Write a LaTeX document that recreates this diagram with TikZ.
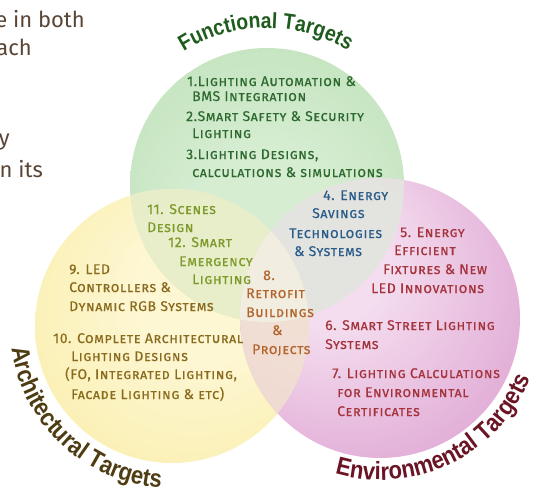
\documentclass[tikz,border=0pt]{standalone}
\usepackage{fontspec}
\usetikzlibrary{decorations.text}
\setmainfont{Fira Sans}
\newfontfamily\scf{Fira Sans}[Letters=SmallCaps, LetterSpace=4, FakeBold=0.4]
\newfontfamily\ttlf{Liberation Sans}[FakeStretch=0.88]
\definecolor{gin}{HTML}{D6EDD2}
\definecolor{gout}{HTML}{B2DBAB}
\definecolor{yin}{HTML}{FDF7D4}
\definecolor{yout}{HTML}{F8E994}
\definecolor{pin}{HTML}{F4DDEF}
\definecolor{pout}{HTML}{D386C3}
\definecolor{gyc}{HTML}{E6EDCA}
\definecolor{gpc}{HTML}{E2E5DE}
\definecolor{ypc}{HTML}{F1E0D0}
\definecolor{gypc}{HTML}{F3EFE3}
\definecolor{tgreen}{HTML}{2E6A30}
\definecolor{tblue}{HTML}{2A5C8A}
\definecolor{tred}{HTML}{A5333C}
\definecolor{torange}{HTML}{B3642B}
\definecolor{tgold}{HTML}{8A6B1E}
\definecolor{tolive}{HTML}{7C9A2A}
\definecolor{ttlgreen}{HTML}{1E5C1E}
\definecolor{ttlbrown}{HTML}{4E3C12}
\definecolor{ttlred}{HTML}{6A1424}
\definecolor{slidetext}{HTML}{5A4535}
\pgfdeclareradialshading{gsh}{\pgfpoint{0bp}{-8bp}}{color(0bp)=(gin); color(12bp)=(gin); color(50bp)=(gout)}
\pgfdeclareradialshading{ysh}{\pgfpoint{8bp}{8bp}}{color(0bp)=(yin); color(12bp)=(yin); color(50bp)=(yout)}
\pgfdeclareradialshading{psh}{\pgfpoint{-14bp}{14bp}}{color(0bp)=(pin); color(12bp)=(pin); color(50bp)=(pout)}
\tikzset{
  item/.style={anchor=base west, inner sep=0pt, font=\scf\fontsize{14}{14}\selectfont},
  fgreen/.style={item, text=tgreen},
  fblue/.style={item, text=tblue},
  fred/.style={item, text=tred},
  forange/.style={item, text=torange},
  fgold/.style={item, text=tgold},
  folive/.style={item, text=tolive},
  slide/.style={anchor=base east, inner sep=0pt, text=slidetext, font=\fontsize{22}{22}\selectfont},
}
\begin{document}
\begin{tikzpicture}[x=1pt,y=1pt]
\useasboundingbox (0,0) rectangle (546,-490);
\fill[white] (0,0) rectangle (546,-490);
\coordinate (G) at (267,-185);
\coordinate (Y) at (172,-326);
\coordinate (P) at (380,-318);
% circles
\shade[shading=gsh] (G) circle (137);
\shade[shading=ysh] (Y) circle (137);
\shade[shading=psh] (P) circle (140);
% overlaps
\begin{scope}
  \clip (G) circle (137);
  \fill[gyc, opacity=.9] (Y) circle (137);
  \fill[gpc, opacity=.9] (P) circle (140);
\end{scope}
\begin{scope}
  \clip (Y) circle (137);
  \fill[ypc, opacity=.85] (P) circle (140);
  \clip (G) circle (137);
  \fill[gypc, opacity=.9] (P) circle (140);
\end{scope}
% slide text on the left
\node[slide] (s1) at (85,-27) {e in both};
\node[slide] (s2) at (32,-55) {ach};
\node[slide] (s3) at (10,-145) {y};
\node[slide] (s4) at (43,-177) {n its};
% curved titles
\path[decorate, decoration={text along path, text align=center,
  text={|\ttlf\bfseries\fontsize{22}{22}\selectfont\color{ttlgreen}|Functional Targets}}]
  (G) ++(132:157) arc[start angle=132, end angle=49, radius=157];
\path[decorate, decoration={text along path, text align=center,
  text={|\ttlf\bfseries\fontsize{25}{25}\selectfont\color{ttlbrown}|Architectural Targets}}]
  (Y) ++(172:162) arc[start angle=172, end angle=282, radius=162];
\path[decorate, decoration={text along path, text align=center,
  text={|\ttlf\bfseries\fontsize{25}{25}\selectfont\color{ttlred}|Environmental Targets}}]
  (P) ++(236:162) arc[start angle=236, end angle=356, radius=162];
% functional
\node[fgreen] (f1a) at (187,-86) {1.Lighting Automation \&};
\node[fgreen] (f1b) at (192,-101) {BMS Integration};
\node[fgreen] (f2a) at (186,-121) {2.Smart Safety \& Security};
\node[fgreen] (f2b) at (192,-138) {Lighting};
\node[fgreen] (f3a) at (186,-159) {3.Lighting Designs,};
\node[fgreen] (f3b) at (192,-177) {calculations \& simulations};
% energy savings
\node[fblue] (b4a) at (323,-200) {4. Energy};
\node[fblue] (b4b) at (312,-218) {Savings};
\node[fblue] (b4c) at (289,-238) {Technologies};
\node[fblue] (b4d) at (294,-256) {\& Systems};
% environmental
\node[fred] (r5a) at (400,-237) {5. Energy};
\node[fred] (r5b) at (394,-255) {Efficient};
\node[fred] (r5c) at (383,-274) {Fixtures \& New};
\node[fred] (r5d) at (371,-293) {LED Innovations};
\node[fred] (r6a) at (325,-330) {6. Smart Street Lighting};
\node[fred] (r6b) at (325,-349) {Systems};
\node[fred] (r7a) at (332,-378) {7. Lighting Calculations};
\node[fred] (r7b) at (337,-397) {for Environmental};
\node[fred] (r7c) at (337,-416) {Certificates};
% retrofit
\node[forange] (o8a) at (263,-280) {8.};
\node[forange] (o8b) at (246,-298) {Retrofit};
\node[forange] (o8c) at (246,-317) {Buildings};
\node[forange] (o8d) at (272,-335) {\&};
\node[forange] (o8e) at (252,-354) {Projects};
% architectural
\node[fgold] (y9a) at (69,-274) {9. LED};
\node[fgold] (y9b) at (69,-292) {Controllers \&};
\node[fgold] (y9c) at (69,-311) {Dynamic RGB Systems};
\node[fgold] (y10a) at (53,-343) {10. Complete Architectural};
\node[fgold] (y10b) at (71,-361) {Lighting Designs};
\node[fgold] (y10c) at (65,-379) {(FO, Integrated Lighting,};
\node[fgold] (y10d) at (71,-399) {Facade Lighting \& etc)};
% functional & architectural
\node[folive] (l11a) at (147,-214) {11. Scenes};
\node[folive] (l11b) at (147,-232) {Design};
\node[folive] (l12a) at (168,-247) {12. Smart};
\node[folive] (l12b) at (179,-266) {Emergency};
\node[folive] (l12c) at (192,-284) {Lighting};
\end{tikzpicture}
\end{document}
